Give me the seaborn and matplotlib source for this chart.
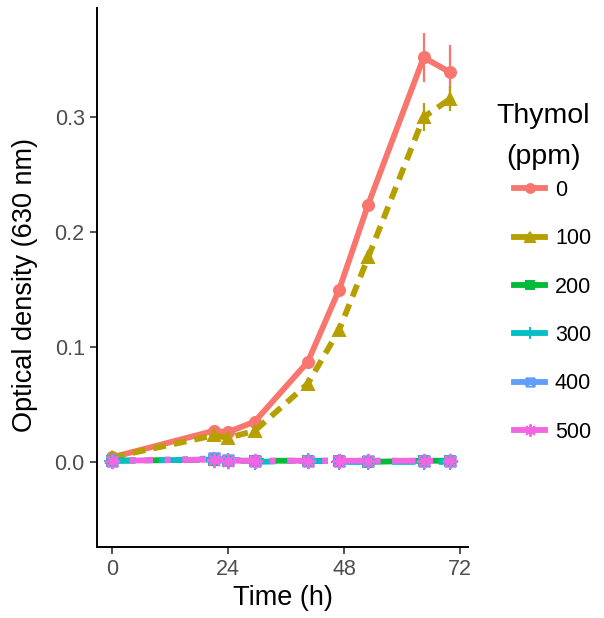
import numpy as np
import pandas as pd
import matplotlib
matplotlib.use("Agg")
import matplotlib.pyplot as plt
from matplotlib.path import Path
import seaborn as sns

# ---- data ----
time_h = [0, 21, 24, 29.5, 40.5, 47, 53, 64.5, 70]
levels = ["0", "100", "200", "300", "400", "500"]
od_0 = [0.004, 0.027, 0.026, 0.035, 0.087, 0.150, 0.224, 0.352, 0.339]
od_100 = [0.004, 0.023, 0.021, 0.027, 0.068, 0.115, 0.178, 0.300, 0.316]
od_200 = [0.001, 0.002, 0.001, 0.001, 0.001, 0.001, 0.000, 0.001, 0.001]
od_300 = [0.001, 0.002, 0.001, 0.000, 0.001, 0.000, 0.000, 0.000, 0.000]
od_400 = [0.001, 0.003, 0.002, 0.001, 0.001, 0.001, 0.001, 0.001, 0.001]
od_500 = [0.001, 0.002, 0.001, 0.001, 0.001, 0.001, 0.001, 0.001, 0.001]
sd_0 = [0.001, 0.002, 0.002, 0.003, 0.004, 0.005, 0.005, 0.021, 0.024]
sd_100 = [0.001, 0.002, 0.002, 0.002, 0.004, 0.005, 0.006, 0.012, 0.011]
sd_low = [0.001, 0.004, 0.003, 0.003, 0.002, 0.002, 0.002, 0.002, 0.002]
legend_title = "Thymol\n(ppm)"

series = [od_0, od_100, od_200, od_300, od_400, od_500]
sds = [sd_0, sd_100, sd_low, sd_low, sd_low, sd_low]

df = pd.DataFrame({
    "Time": np.tile(time_h, len(levels)),
    "OD": np.concatenate(series),
    "SD": np.concatenate(sds),
    "Thymol": np.repeat(levels, len(time_h)),
})

plt.rcParams["font.family"] = ["Liberation Sans", "DejaVu Sans"]

colors = ["#F8766D", "#B79F00", "#00BA38", "#00BFC4", "#619CFF", "#F564E3"]
palette = dict(zip(levels, colors))

sq_x = Path([(-1, -1), (1, -1), (1, 1), (-1, 1), (-1, -1), (-1, -1), (1, 1), (-1, 1), (1, -1)],
            [Path.MOVETO, Path.LINETO, Path.LINETO, Path.LINETO, Path.LINETO,
             Path.MOVETO, Path.LINETO, Path.MOVETO, Path.LINETO])
# seaborn needs all-filled markers; swap to the real glyphs afterwards
sns_markers = {"0": "o", "100": "^", "200": "s", "300": "P", "400": "D", "500": "*"}
real_markers = {"0": "o", "100": "^", "200": "s", "300": "+", "400": sq_x, "500": (8, 2, 0)}
real_sizes = {"0": 8, "100": 9, "200": 7, "300": 11, "400": 7.5, "500": 11}
dashes = {"0": "", "100": (2.2, 1.4), "200": (4, 1.5), "300": (4, 4), "400": (1, 2), "500": (1, 2, 4, 2)}

fig = plt.figure(figsize=(6.04, 6.18), dpi=100)
ax = fig.add_axes([0.161, 0.115, 0.614, 0.872])

sns.lineplot(data=df, x="Time", y="OD", hue="Thymol", style="Thymol",
             palette=palette, markers=sns_markers, dashes=dashes,
             linewidth=4.2, markersize=9, ax=ax, legend=True)

data_lines = list(ax.lines[:6])

for lvl, col in zip(levels, colors):
    sub = df[df["Thymol"] == lvl]
    ax.errorbar(sub["Time"], sub["OD"], yerr=sub["SD"], fmt="none",
                ecolor=col, elinewidth=1.6, capsize=0, zorder=1)

def style_line(line, lvl, scale=1.0):
    c = line.get_color()
    line.set_marker(real_markers[lvl])
    line.set_markersize(real_sizes[lvl] * scale)
    line.set_markeredgecolor(c)
    line.set_markerfacecolor("none" if lvl == "400" else c)
    line.set_markeredgewidth(1.4)

for line, lvl in zip(data_lines, levels):
    style_line(line, lvl)

ax.set_xlim(-3.1, 73.7)
ax.set_ylim(-0.074, 0.395)
ax.set_xticks([0, 24, 48, 72])
ax.set_yticks([0.0, 0.1, 0.2, 0.3])
ax.set_yticklabels(["0.0", "0.1", "0.2", "0.3"])
ax.tick_params(axis="both", labelsize=15.5, labelcolor="#4D4D4D", color="#333333",
               length=5, width=1.2, pad=4)
ax.set_xlabel("Time (h)", fontsize=19.5)
ax.set_ylabel("Optical density (630 nm)", fontsize=19.5)
ax.xaxis.label.set_va("center")
ax.yaxis.label.set_va("center")
ax.xaxis.set_label_coords(0.5, -0.0946)
ax.yaxis.set_label_coords(-0.194, 0.486)
for side in ["top", "right"]:
    ax.spines[side].set_visible(False)
for side in ["left", "bottom"]:
    ax.spines[side].set_linewidth(1.4)
ax.grid(False)

handles, labels = ax.get_legend_handles_labels()
for h, lvl in zip(handles, labels):
    style_line(h, lvl, scale=0.8)
    h.set_linestyle("-")
leg = ax.legend(handles, labels, loc="upper left",
                bbox_to_anchor=(0.851, 0.709), bbox_transform=fig.transFigure,
                frameon=False, fontsize=15.5, borderpad=0, borderaxespad=0,
                labelspacing=1.27, handlelength=1.45, handletextpad=0.45)
fig.text(0.900, 1 - 136 / 618, legend_title, ha="center", va="center",
         fontsize=20.5, linespacing=1.75)

fig.savefig("out.png", dpi=100)
